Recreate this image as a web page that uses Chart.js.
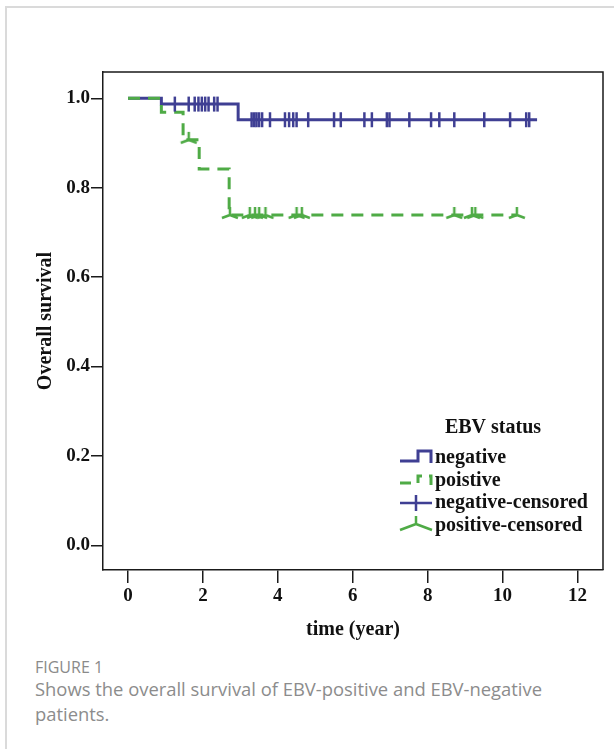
<!DOCTYPE html>
<html>
<head>
<meta charset="utf-8">
<script src="https://cdn.jsdelivr.net/npm/chart.js@4/dist/chart.umd.min.js"></script>
<style>
  html, body { margin: 0; padding: 0; background: #fff; }
  body { width: 614px; height: 749px; position: relative; overflow: hidden; }
  .card { position: absolute; left: 5px; top: 6px; width: 620px; height: 760px;
          border-left: 2px solid #dadada; border-top: 2px solid #dadada; }
  #wrap { position: absolute; left: 0; top: 0; width: 614px; height: 650px; }
  .fig { position: absolute; left: 35px; top: 656px; font-family: "Open Sans", sans-serif;
         font-size: 16px; line-height: 22px; color: #8a8a8a; font-weight: 500; }
  .cap { position: absolute; left: 35px; top: 676px; width: 545px; font-family: "Open Sans", sans-serif;
         font-size: 18.4px; line-height: 25px; color: #8c8c8c; font-weight: 400; }
</style>
</head>
<body>
<div class="card"></div>
<div id="wrap"><canvas id="c" width="614" height="650"></canvas></div>
<div class="fig">FIGURE 1</div>
<div class="cap">Shows the overall survival of EBV-positive and EBV-negative patients.</div>
<script>
// ---- data ----
const negStepTimes = [0, 0.89, 2.94, 10.92];
const negStepSurv  = [1.0, 0.987, 0.952, 0.952];
const posStepTimes = [0, 0.89, 1.47, 1.90, 2.70, 10.38];
const posStepSurv  = [1.0, 0.969, 0.907, 0.842, 0.739, 0.739];
const negCensorTimes = [1.25, 1.62, 1.78, 1.88, 1.97, 2.06, 2.15, 2.30, 2.39,
  3.30, 3.37, 3.43, 3.50, 3.58, 3.79, 4.19, 4.30, 4.41, 4.50, 4.81, 5.50, 5.68,
  6.31, 6.51, 6.91, 6.98, 7.51, 8.09, 8.31, 8.71, 9.51, 10.20, 10.63, 10.71];
const posCensorTimes = [1.62, 2.72, 3.25, 3.39, 3.50, 3.67, 4.50, 4.64, 8.71, 9.18, 9.27, 10.38];
const xTickValues = [0, 2, 4, 6, 8, 10, 12];
const yTickValues = [0, 0.2, 0.4, 0.6, 0.8, 1.0];
const seriesLabels = ['negative', 'poistive', 'negative-censored', 'positive-censored'];
const legendTitle = 'EBV status';
const xTitle = 'time (year)';
const yTitle = 'Overall survival';

// ---- styling ----
const BLUE = '#3f3f93';
const GREEN = '#4fab46';
const AXIS = '#1a1a1a';
const SERIF = '"Liberation Serif", "Times New Roman", serif';

function survAt(times, surv, t) {
  let v = surv[0];
  for (let i = 0; i < times.length; i++) if (times[i] <= t) v = surv[i];
  return v;
}
const toPts = (xs, ys) => xs.map((x, i) => ({ x: x, y: ys[i] }));

// censor marker for positive group (inverted Y)
const posMark = document.createElement('canvas');
posMark.width = 20; posMark.height = 20;
(function () {
  const g = posMark.getContext('2d');
  g.strokeStyle = GREEN; g.lineWidth = 2.5; g.lineCap = 'butt';
  g.beginPath();
  g.moveTo(10, 10); g.lineTo(10, 2);
  g.moveTo(10, 10); g.lineTo(2, 13);
  g.moveTo(10, 10); g.lineTo(18, 13);
  g.stroke();
})();

const framePlugin = {
  id: 'frame',
  afterDraw(chart) {
    const { ctx, chartArea: a } = chart;
    ctx.save();
    ctx.strokeStyle = AXIS; ctx.lineWidth = 1.5;
    ctx.beginPath();
    ctx.moveTo(a.left, a.top); ctx.lineTo(a.right, a.top); ctx.lineTo(a.right, a.bottom);
    ctx.stroke();

    // legend
    ctx.fillStyle = '#111';
    ctx.font = 'bold 20px ' + SERIF;
    ctx.textAlign = 'center'; ctx.textBaseline = 'middle';
    ctx.fillText(legendTitle, 493, 428);
    ctx.textAlign = 'left';
    const ys = [458, 481, 503, 526];
    seriesLabels.forEach((s, i) => ctx.fillText(s, 435, ys[i]));

    ctx.lineWidth = 3; ctx.lineCap = 'butt';
    // negative step glyph
    ctx.strokeStyle = BLUE;
    ctx.beginPath();
    ctx.moveTo(400, 461); ctx.lineTo(418, 461); ctx.lineTo(418, 451);
    ctx.lineTo(431, 451); ctx.lineTo(431, 463);
    ctx.stroke();
    // positive dashed step glyph
    ctx.strokeStyle = GREEN;
    ctx.setLineDash([11, 7]);
    ctx.beginPath();
    ctx.moveTo(400, 483); ctx.lineTo(418, 483); ctx.lineTo(418, 476);
    ctx.lineTo(431, 476); ctx.lineTo(431, 486);
    ctx.stroke();
    ctx.setLineDash([]);
    // negative censored
    ctx.strokeStyle = BLUE; ctx.lineWidth = 2.5;
    ctx.beginPath();
    ctx.moveTo(400, 503); ctx.lineTo(432, 503);
    ctx.moveTo(416, 495); ctx.lineTo(416, 511);
    ctx.stroke();
    // positive censored
    ctx.strokeStyle = GREEN;
    ctx.beginPath();
    ctx.moveTo(416, 516); ctx.lineTo(416, 524);
    ctx.moveTo(416, 524); ctx.lineTo(400, 530);
    ctx.moveTo(416, 524); ctx.lineTo(432, 530);
    ctx.stroke();
    ctx.restore();
  }
};

new Chart(document.getElementById('c'), {
  type: 'scatter',
  data: {
    datasets: [
      { label: seriesLabels[0], data: toPts(negStepTimes, negStepSurv), showLine: true,
        stepped: 'before', borderColor: BLUE, borderWidth: 3, pointRadius: 0, order: 3 },
      { label: seriesLabels[1], data: toPts(posStepTimes, posStepSurv), showLine: true,
        stepped: 'before', borderColor: GREEN, borderWidth: 3, borderDash: [12, 8],
        pointRadius: 0, order: 2 },
      { label: seriesLabels[2],
        data: negCensorTimes.map(t => ({ x: t, y: survAt(negStepTimes, negStepSurv, t) })),
        showLine: false, pointStyle: 'line', rotation: 90, pointRadius: 7.5,
        borderColor: BLUE, backgroundColor: BLUE, borderWidth: 2.5, order: 1 },
      { label: seriesLabels[3],
        data: posCensorTimes.map(t => ({ x: t, y: survAt(posStepTimes, posStepSurv, t) })),
        showLine: false, pointStyle: posMark, pointRadius: 8, order: 0 }
    ]
  },
  options: {
    responsive: false,
    devicePixelRatio: 1,
    animation: false,
    events: [],
    layout: { padding: { top: 72, right: 11, left: 0, bottom: 0 } },
    plugins: { legend: { display: false }, tooltip: { enabled: false } },
    scales: {
      x: {
        type: 'linear', position: 'bottom', min: -0.668, max: 12.68,
        afterBuildTicks: s => { s.ticks = xTickValues.map(v => ({ value: v })); },
        afterFit: s => { s.height = 80; },
        ticks: { color: '#111', font: { family: SERIF, size: 19, weight: 'bold' },
                 padding: 2, maxRotation: 0, autoSkip: false, callback: v => String(v) },
        grid: { drawOnChartArea: false, drawTicks: true, tickLength: 13, color: AXIS, lineWidth: 1.5 },
        border: { display: true, color: AXIS, width: 1.5 },
        title: { display: true, text: xTitle, color: '#111',
                 font: { family: SERIF, size: 20, weight: 'bold' }, padding: { top: 0, bottom: 8 } }
      },
      y: {
        type: 'linear', position: 'left', min: -0.0553, max: 1.0588,
        afterBuildTicks: s => { s.ticks = yTickValues.map(v => ({ value: v })); },
        afterFit: s => { s.width = 103; },
        ticks: { color: '#111', font: { family: SERIF, size: 19, weight: 'bold' },
                 padding: 1, callback: v => Number(v).toFixed(1) },
        grid: { drawOnChartArea: false, drawTicks: true, tickLength: 12, color: AXIS, lineWidth: 1.5 },
        border: { display: true, color: AXIS, width: 1.5 },
        title: { display: true, text: yTitle, color: '#111',
                 font: { family: SERIF, size: 20, weight: 'bold' }, padding: { top: 34, bottom: 0 } }
      }
    }
  },
  plugins: [framePlugin]
});
</script>
</body>
</html>
